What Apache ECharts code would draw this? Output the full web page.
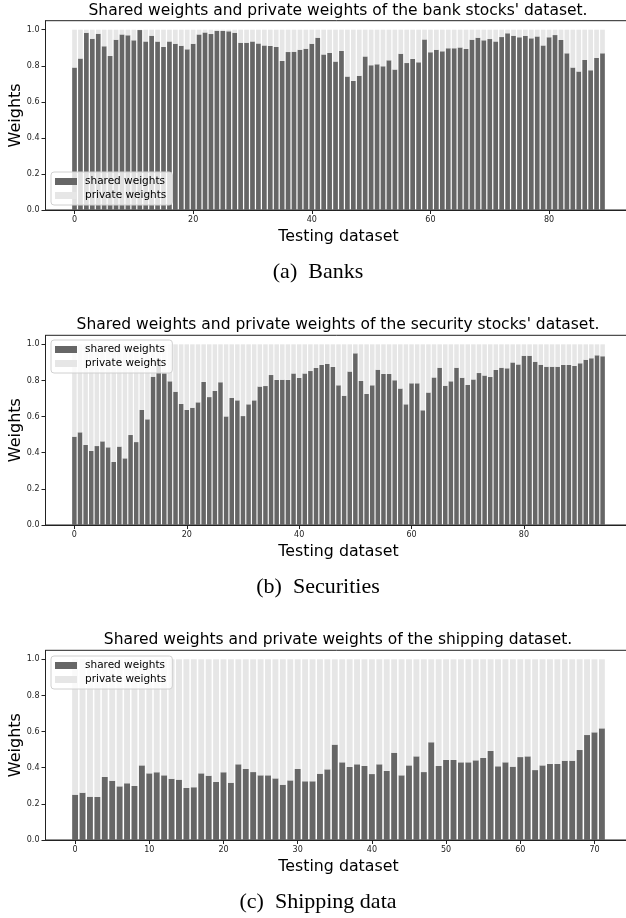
<!DOCTYPE html>
<html>
<head>
<meta charset="utf-8">
<script src="https://cdn.jsdelivr.net/npm/echarts@6/dist/echarts.min.js"></script>
<style>
  html, body { margin: 0; padding: 0; background: #fff; }
  #chart { width: 626px; height: 918px; }
</style>
</head>
<body>
<div id="chart"></div>
<script>
const bankShared = [
  0.79, 0.84, 0.983, 0.95, 0.978, 0.908, 0.854, 0.945, 0.974, 0.969,
  0.941, 0.998, 0.935, 0.967, 0.934, 0.904, 0.935, 0.922, 0.911, 0.891,
  0.922, 0.974, 0.985, 0.976, 0.994, 0.993, 0.991, 0.983, 0.928, 0.928,
  0.935, 0.924, 0.913, 0.91, 0.904, 0.827, 0.876, 0.878, 0.889, 0.895,
  0.922, 0.956, 0.863, 0.871, 0.823, 0.882, 0.74, 0.716, 0.744, 0.852,
  0.803, 0.808, 0.797, 0.83, 0.779, 0.867, 0.815, 0.838, 0.819, 0.946,
  0.875, 0.889, 0.88, 0.897, 0.897, 0.902, 0.893, 0.945, 0.956, 0.941,
  0.948, 0.935, 0.959, 0.98, 0.967, 0.958, 0.965, 0.952, 0.963, 0.913,
  0.958, 0.97, 0.943, 0.869, 0.79, 0.768, 0.832, 0.775, 0.843, 0.869
]
const securityShared = [
  0.489, 0.513, 0.443, 0.41, 0.437, 0.463, 0.43, 0.349, 0.434, 0.369,
  0.498, 0.459, 0.637, 0.585, 0.821, 0.92, 0.84, 0.795, 0.738, 0.67,
  0.637, 0.649, 0.679, 0.792, 0.708, 0.742, 0.79, 0.601, 0.703, 0.69,
  0.603, 0.668, 0.69, 0.766, 0.769, 0.83, 0.803, 0.804, 0.803, 0.839,
  0.814, 0.839, 0.852, 0.869, 0.886, 0.891, 0.875, 0.773, 0.716, 0.849,
  0.95, 0.797, 0.725, 0.773, 0.86, 0.836, 0.836, 0.801, 0.755, 0.668,
  0.784, 0.784, 0.635, 0.733, 0.817, 0.871, 0.771, 0.795, 0.871, 0.815,
  0.775, 0.806, 0.841, 0.827, 0.819, 0.858, 0.871, 0.867, 0.9, 0.889,
  0.937, 0.937, 0.904, 0.887, 0.876, 0.876, 0.876, 0.886, 0.886, 0.88,
  0.895, 0.915, 0.923, 0.939, 0.934
]
const shippingShared = [
  0.251, 0.262, 0.24, 0.238, 0.349, 0.328, 0.297, 0.314, 0.299, 0.413,
  0.369, 0.375, 0.358, 0.339, 0.334, 0.288, 0.292, 0.369, 0.356, 0.321,
  0.375, 0.317, 0.419, 0.393, 0.376, 0.358, 0.358, 0.341, 0.306, 0.33,
  0.393, 0.325, 0.325, 0.367, 0.391, 0.528, 0.43, 0.404, 0.419, 0.41,
  0.365, 0.419, 0.382, 0.483, 0.358, 0.413, 0.463, 0.376, 0.541, 0.41,
  0.443, 0.443, 0.43, 0.43, 0.441, 0.454, 0.493, 0.408, 0.43, 0.406,
  0.459, 0.463, 0.387, 0.413, 0.421, 0.421, 0.439, 0.439, 0.498, 0.581,
  0.596, 0.618
]

const bankTicks = [0, 20, 40, 60, 80]
const securityTicks = [0, 20, 40, 60, 80]
const shippingTicks = [0, 10, 20, 30, 40, 50, 60, 70]
const weightTicks = [0, 0.2, 0.4, 0.6, 0.8, 1.0]

const titles = [
  "Shared weights and private weights of the bank stocks' dataset.",
  "Shared weights and private weights of the security stocks' dataset.",
  "Shared weights and private weights of the shipping dataset."
]
const captions = ["(a)  Banks", "(b)  Securities", "(c)  Shipping data"]

const SHARED = "#666666"
const PRIVATE = "#e6e6e6"
const FONT = "DejaVu Sans"

// panel layout: axes top / bottom in px, x limits like matplotlib margins
const panels = [
  { data: bankShared, ticks: bankTicks, top: 20.7, bottom: 210, barW: 4.7, legendTop: 172 },
  { data: securityShared, ticks: securityTicks, top: 335.3, bottom: 525, barW: 4.5, legendTop: 340 },
  { data: shippingShared, ticks: shippingTicks, top: 650.3, bottom: 840, barW: 5.9, legendTop: 656 }
]

const chart = echarts.init(document.getElementById("chart"), null, { renderer: "canvas" })

const grid = []
const xAxis = []
const yAxis = []
const series = []
const legend = []
const graphic = []

panels.forEach((p, i) => {
  const n = p.data.length
  const pad = 0.05 * (n - 0.2)
  grid.push({
    left: 45.5, width: 586, top: p.top, height: p.bottom - p.top,
    outerBoundsMode: "none", containLabel: false,
    show: true, borderColor: "#222", borderWidth: 1, backgroundColor: "transparent"
  })
  xAxis.push({
    type: "value", gridIndex: i,
    min: -0.4 - pad, max: n - 0.6 + pad,
    name: "Testing dataset", nameLocation: "middle", nameGap: 19,
    nameTextStyle: { fontFamily: FONT, fontSize: 15.8, color: "#000" },
    axisLine: { show: true, onZero: false, lineStyle: { color: "#222" } },
    axisTick: { show: true, length: 4, customValues: p.ticks, lineStyle: { color: "#222" } },
    axisLabel: { customValues: p.ticks, margin: 6, fontFamily: FONT, fontSize: 8, color: "#222" },
    splitLine: { show: false }
  })
  yAxis.push({
    type: "value", gridIndex: i, min: 0, max: 1.05,
    name: "Weights", nameLocation: "middle", nameGap: 22, nameMoveOverlap: false,
    nameTextStyle: { fontFamily: FONT, fontSize: 16, color: "#000" },
    axisLine: { show: true, onZero: false, lineStyle: { color: "#222" } },
    axisTick: { show: true, length: 4, customValues: weightTicks, lineStyle: { color: "#222" } },
    axisLabel: {
      customValues: weightTicks, margin: 6, fontFamily: FONT, fontSize: 8, color: "#222",
      formatter: v => v.toFixed(1)
    },
    splitLine: { show: false }
  })
  // rows are [weight, index] so the stack runs on the weight column
  series.push({
    name: "shared weights", type: "bar", xAxisIndex: i, yAxisIndex: i,
    stack: "w" + i, barWidth: p.barW, itemStyle: { color: SHARED },
    encode: { x: 1, y: 0 },
    data: p.data.map((v, k) => [v, k])
  })
  series.push({
    name: "private weights", type: "bar", xAxisIndex: i, yAxisIndex: i,
    stack: "w" + i, barWidth: p.barW, itemStyle: { color: PRIVATE },
    encode: { x: 1, y: 0 },
    data: p.data.map((v, k) => [+(1 - v).toFixed(3), k])
  })
  legend.push({
    data: ["shared weights", "private weights"],
    orient: "vertical", left: 51, top: p.legendTop,
    itemWidth: 22, itemHeight: 7, itemGap: 3, icon: "rect",
    padding: [4, 6, 4, 4],
    backgroundColor: "rgba(255,255,255,0.8)", borderColor: "#d0d0d0", borderWidth: 1, borderRadius: 3,
    textStyle: { fontFamily: FONT, fontSize: 10.5, color: "#000", padding: [0, 0, 0, 3] },
    selectedMode: false, z: 10
  })
  graphic.push({
    type: "text", x: 338, y: p.top - 10,
    style: { text: titles[i], fontFamily: FONT, fontSize: 15.5, fill: "#000", textAlign: "center", textVerticalAlign: "middle" }
  })
  graphic.push({
    type: "text", x: 318, y: p.bottom + 62,
    style: { text: captions[i], fontFamily: "Liberation Serif", fontSize: 22, fill: "#000", textAlign: "center", textVerticalAlign: "middle" }
  })
})

chart.setOption({
  animation: false,
  grid,
  xAxis,
  yAxis,
  series,
  legend,
  graphic
})
</script>
</body>
</html>
